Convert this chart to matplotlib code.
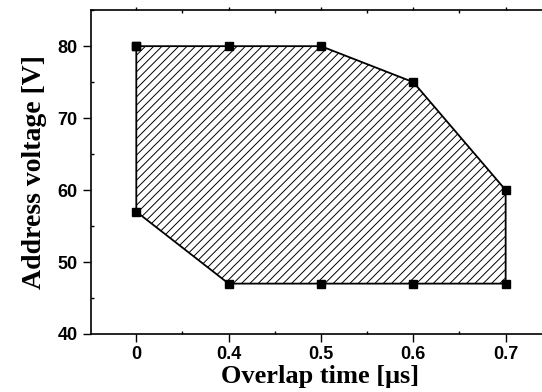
import numpy as np
import matplotlib
matplotlib.use('Agg')
import matplotlib.pyplot as plt
from matplotlib.ticker import MultipleLocator

# overlap time categories (equally spaced on the axis)
tick_labels = ['0', '0.4', '0.5', '0.6', '0.7']
# upper boundary of the window
upper_v = [80, 80, 80, 75, 60]
# lower boundary of the window
lower_v = [57, 47, 47, 47, 47]

plt.rcParams['hatch.linewidth'] = 0.7

fig = plt.figure(figsize=(5.42, 3.92), dpi=100)
ax = fig.add_axes([0.168, 0.148, 0.845, 0.826])

xpos = np.arange(len(tick_labels))
# closed polygon: along the top, then back along the bottom
px = np.concatenate([xpos, xpos[::-1], xpos[:1]])
py = np.concatenate([upper_v, lower_v[::-1], upper_v[:1]])

ax.fill(px, py, facecolor='white', edgecolor='black', hatch='////', linewidth=0)
ax.plot(px, py, color='black', linewidth=1.3, marker='s', markersize=6)

ax.set_xlim(-0.49, 4.47)
ax.set_ylim(40, 85)
ax.set_xticks(xpos)
ax.set_xticklabels(tick_labels)
ax.xaxis.set_minor_locator(MultipleLocator(0.5))
ax.set_yticks([40, 50, 60, 70, 80])
ax.yaxis.set_minor_locator(MultipleLocator(5))

ax.tick_params(which='major', direction='out', length=6, width=1, labelsize=13)
ax.tick_params(axis='x', which='major', pad=3)
ax.tick_params(which='minor', direction='in', length=2, width=1)
ax.tick_params(axis='x', which='both', top=True)
ax.tick_params(axis='x', which='both', labeltop=False)
for t in ax.xaxis.get_major_ticks() + ax.xaxis.get_minor_ticks():
    t.tick2line.set_markersize(2)
for lab in ax.get_xticklabels() + ax.get_yticklabels():
    lab.set_fontfamily('Liberation Sans')
    lab.set_fontweight('bold')
for s in ax.spines.values():
    s.set_linewidth(1.2)

ax.set_xlabel('Overlap time [\u03bcs]', fontfamily='Liberation Serif', fontweight='bold', fontsize=19, labelpad=1)
ax.set_ylabel('Address voltage [V]', fontfamily='Liberation Serif', fontweight='bold', fontsize=20, labelpad=8)

fig.savefig('out.png', dpi=100)
